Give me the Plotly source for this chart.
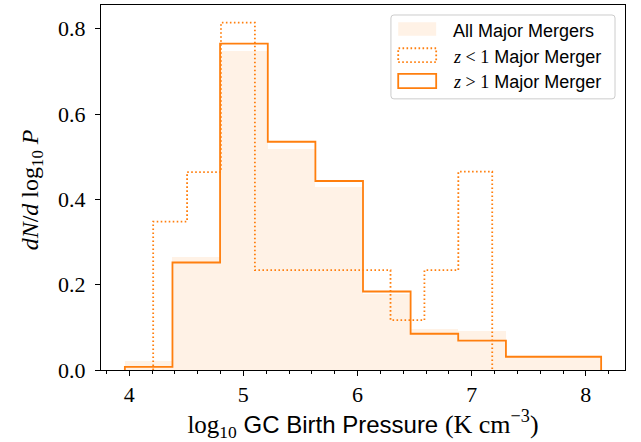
import plotly.graph_objects as go

# Bin edges (log10 P) and normalised histogram heights
edges_all = [3.962, 4.379, 4.796, 5.214, 5.631, 6.048, 6.465, 6.882, 7.300, 7.717, 8.134]
dens_all = [0.021, 0.265, 0.748, 0.518, 0.428, 0.177, 0.097, 0.091, 0.031, 0.031]

edges_hi = [3.962, 4.379, 4.796, 5.214, 5.631, 6.048, 6.465, 6.882, 7.300, 7.717, 8.134]
dens_hi = [0.0075, 0.252, 0.765, 0.535, 0.443, 0.184, 0.085, 0.069, 0.031, 0.031]

edges_lo = [4.21, 4.507, 4.804, 5.101, 5.398, 5.695, 5.992, 6.289, 6.586, 6.883, 7.18]
dens_lo = [0.348, 0.464, 0.814, 0.234, 0.234, 0.234, 0.234, 0.117, 0.234, 0.465]

x_ticks = [4, 5, 6, 7, 8]
y_ticks = [0.0, 0.2, 0.4, 0.6, 0.8]

ORANGE = "#ff7f0e"
FILL = "rgba(255,127,14,0.10)"
SERIF = "Liberation Serif"
SANS = "Liberation Sans"

W, H = 641, 442
L, R, T, B = 100.5, 625.0, 5.0, 370.5


def step_outline(edges, heights):
    xs, ys = [edges[0]], [0.0]
    for i, h in enumerate(heights):
        xs += [edges[i], edges[i + 1]]
        ys += [h, h]
    xs.append(edges[-1])
    ys.append(0.0)
    return xs, ys


fig = go.Figure()

# filled histogram of all major mergers
fig.add_trace(go.Bar(
    x=[(a + b) / 2 for a, b in zip(edges_all[:-1], edges_all[1:])],
    y=dens_all,
    width=[b - a for a, b in zip(edges_all[:-1], edges_all[1:])],
    marker=dict(color=FILL, line=dict(width=0)),
    showlegend=False,
))

xs, ys = step_outline(edges_lo, dens_lo)
fig.add_trace(go.Scatter(x=xs, y=ys, mode="lines",
                         line=dict(color=ORANGE, width=1.8, dash="1.6px,2.4px"),
                         showlegend=False))

xs, ys = step_outline(edges_hi, dens_hi)
fig.add_trace(go.Scatter(x=xs, y=ys, mode="lines",
                         line=dict(color=ORANGE, width=1.8),
                         showlegend=False))


def px(x):
    return (x - L) / (R - L)


def py(y):
    return (B - y) / (B - T)


shapes = []
annotations = []

# legend frame with rounded corners
x0, x1, y0, y1, r = 390.7, 615.0, 15.0, 99.0, 3.0
path = (f"M {px(x0 + r)} {py(y0)} L {px(x1 - r)} {py(y0)} "
        f"Q {px(x1)} {py(y0)} {px(x1)} {py(y0 + r)} "
        f"L {px(x1)} {py(y1 - r)} Q {px(x1)} {py(y1)} {px(x1 - r)} {py(y1)} "
        f"L {px(x0 + r)} {py(y1)} Q {px(x0)} {py(y1)} {px(x0)} {py(y1 - r)} "
        f"L {px(x0)} {py(y0 + r)} Q {px(x0)} {py(y0)} {px(x0 + r)} {py(y0)} Z")
shapes.append(dict(type="path", xref="paper", yref="paper", path=path,
                   fillcolor="rgba(255,255,255,0.8)",
                   line=dict(color="#cccccc", width=1)))

entries = [
    (22.3, 35.7, 30.7, "All Major Mergers", dict(fillcolor=FILL, line=dict(width=0))),
    (48.3, 62.3, 56.7,
     f"<span style='font-family:{SERIF}'><i>z</i> &lt; 1</span> Major Merger",
     dict(fillcolor="rgba(0,0,0,0)", line=dict(color=ORANGE, width=1.8, dash="1.6px,2.4px"))),
    (74.0, 88.3, 81.7,
     f"<span style='font-family:{SERIF}'><i>z</i> &gt; 1</span> Major Merger",
     dict(fillcolor="rgba(0,0,0,0)", line=dict(color=ORANGE, width=1.8))),
]
for top, bot, mid, label, style in entries:
    shapes.append(dict(type="rect", xref="paper", yref="paper",
                       x0=px(398.0), x1=px(436.0), y0=py(bot), y1=py(top), **style))
    annotations.append(dict(xref="paper", yref="paper", x=px(450.5), y=py(mid),
                            xanchor="left", yanchor="middle", showarrow=False,
                            text=label, font=dict(family=SANS, size=18, color="#000")))

# y-axis title
annotations.append(dict(
    xref="paper", yref="paper", x=px(31), y=py(190), xanchor="center", yanchor="middle",
    showarrow=False, textangle=-90,
    text="<i>dN</i>/<i>d</i> log<sub>10</sub> <i>P</i>",
    font=dict(family=SERIF, size=24, color="black")))

fig.update_layout(
    width=W, height=H,
    margin=dict(l=L, r=W - R, t=T, b=H - B),
    paper_bgcolor="white", plot_bgcolor="white",
    bargap=0, shapes=shapes, annotations=annotations,
    xaxis=dict(
        range=[3.753, 8.343], tickvals=x_ticks, ticktext=[str(v) for v in x_ticks],
        ticks="outside", ticklen=5, tickwidth=1, tickcolor="black",
        minor=dict(dtick=0.2, ticks="outside", ticklen=3, tickcolor="black", showgrid=False),
        showgrid=False, zeroline=False, showline=True, linecolor="black", linewidth=1,
        mirror=True, tickfont=dict(family=SERIF, size=22, color="black"),
        title=dict(
            text=(f"<span style='font-family:{SERIF};font-size:25px'>log<sub>10</sub></span> "
                  f"GC Birth Pressure "
                  f"<span style='font-family:{SERIF};font-size:26px'>(K cm<sup>−3</sup>)</span>"),
            font=dict(family=SANS, size=24, color="black"), standoff=4),
    ),
    yaxis=dict(
        range=[0, 0.8555], tickvals=y_ticks, ticktext=[f"{v:.1f}" for v in y_ticks],
        ticks="outside", ticklen=5, tickwidth=1, tickcolor="black",
        ticklabelstandoff=5,
        showgrid=False, zeroline=False, showline=True, linecolor="black", linewidth=1,
        mirror=True, tickfont=dict(family=SERIF, size=22, color="black"),
    ),
)

fig.write_html("out.html")
